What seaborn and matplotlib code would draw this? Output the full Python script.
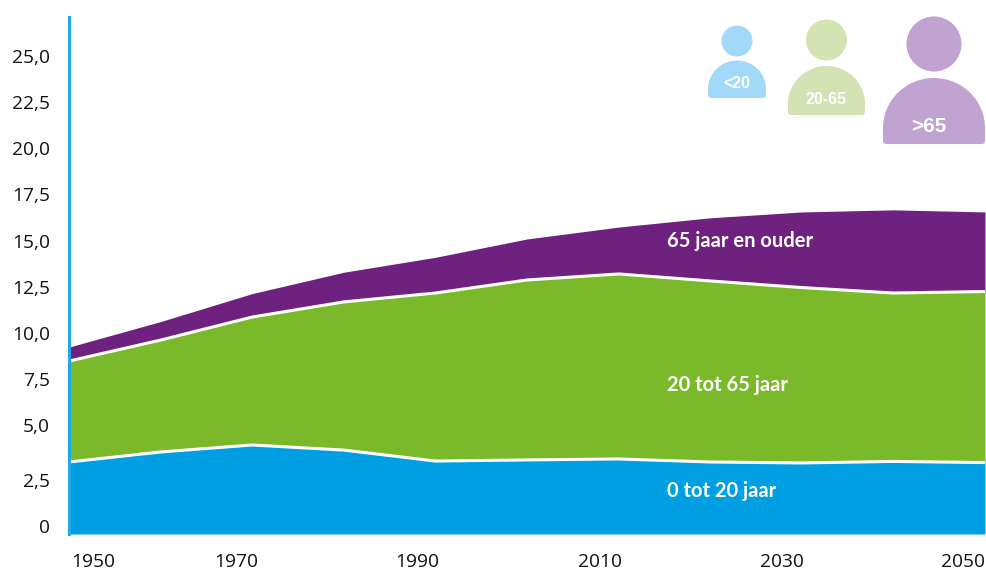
import matplotlib
matplotlib.use("Agg")
import matplotlib.pyplot as plt
from matplotlib.patches import Circle, PathPatch
from matplotlib.path import Path
from matplotlib.transforms import ScaledTranslation
import numpy as np
import pandas as pd
import seaborn as sns

years = [1950, 1960, 1970, 1980, 1990, 2000, 2010, 2020, 2030, 2040, 2050]
young = [3.81, 4.34, 4.71, 4.44, 3.86, 3.92, 3.97, 3.81, 3.76, 3.84, 3.78]
working = [5.34, 5.92, 6.77, 7.84, 8.89, 9.52, 9.79, 9.58, 9.28, 8.91, 9.05]
older = [0.74, 0.98, 1.24, 1.57, 1.89, 2.17, 2.48, 3.34, 4.00, 4.40, 4.21]
y_ticks = [0, 2.5, 5, 7.5, 10, 12.5, 15, 17.5, 20, 22.5, 25]
y_labels = ["0", "2,5", "5,0", "7,5", "10,0", "12,5", "15,0", "17,5", "20,0", "22,5", "25,0"]
x_ticks = [1950, 1970, 1990, 2010, 2030, 2050]
band_names = ["0 tot 20 jaar", "20 tot 65 jaar", "65 jaar en ouder"]
band_colors = ["#009fe3", "#7ab929", "#6f217f"]
icon_names = ["<20", "20-65", ">65"]
icon_colors = ["#a2d9f9", "#d3e3b3", "#c0a3d0"]

sns.set_theme(style="white")
plt.rcParams["font.family"] = ["Open Sans", "DejaVu Sans"]

W, H = 986, 571
fig = plt.figure(figsize=(W / 100, H / 100), dpi=100)
ax = fig.add_axes([69 / W, 1 - 534 / H, 916 / W, 517 / H])

ax.stackplot(years, young, working, older, colors=band_colors, linewidth=0)

df = pd.DataFrame({"year": years,
                   "young_top": np.array(young),
                   "working_top": np.array(young) + np.array(working)})
sns.lineplot(data=df, x="year", y="young_top", color="white", lw=2.2, ax=ax, solid_capstyle="butt")
sns.lineplot(data=df, x="year", y="working_top", color="white", lw=2.2, ax=ax, solid_capstyle="butt")

ax.set_xlim(1950, 2050)
ax.set_ylim(0, 517 / 18.9)
ax.set_xlabel("")
ax.set_ylabel("")
for s in ["top", "right", "bottom"]:
    ax.spines[s].set_visible(False)
ax.spines["left"].set_color("#1ea9e8")
ax.spines["left"].set_linewidth(2.2)

ax.set_yticks(y_ticks, y_labels)
ax.set_xticks(x_ticks, [str(y) for y in x_ticks])
ax.tick_params(axis="y", direction="in", length=2.5, width=0.5, color="white", pad=13.5,
               labelsize=13.8, labelcolor="#111111", left=True)
ax.tick_params(axis="x", length=0, pad=14, labelsize=13.8, labelcolor="#111111")

# the source's labels sit away from their ticks by uneven amounts (pixels)
y_shift = [8, 7, 15, 13.5, 12, 10.5, 9.5, 9, 8, 7, 6]
x_shift = [24, -16, -18, -19, -20, -22]
px = 72 / 100
for lab, d in zip(ax.get_yticklabels(), y_shift):
    lab.set_transform(lab.get_transform() + ScaledTranslation(0, d * px / 72, fig.dpi_scale_trans))
for lab, d in zip(ax.get_xticklabels(), x_shift):
    lab.set_transform(lab.get_transform() + ScaledTranslation(d * px / 72, 0, fig.dpi_scale_trans))

# overlay in pixel coordinates for annotations and person icons
ov = fig.add_axes([0, 0, 1, 1], facecolor="none")
ov.set_xlim(0, W)
ov.set_ylim(H, 0)
ov.axis("off")

for name, yy in zip(band_names, [491, 385, 241]):
    ov.text(667, yy, name, color="white", fontsize=14.5, fontweight="bold", va="center", ha="left",
            family=["Lato", "DejaVu Sans"])


def person(cx, cy, r, x0, x1, top, bottom, label, color, size, lx, ly):
    ov.add_patch(Circle((cx, cy), r, fc=color, ec="none"))
    mid = (x0 + x1) / 2
    hw = (x1 - x0) / 2
    k = 0.5523
    c = 3
    arch = min(top + hw * 0.98, bottom - c)
    verts = [(x0, bottom - c), (x0, arch), (x0, arch - (arch - top) * k),
             (mid - hw * k, top), (mid, top),
             (mid + hw * k, top), (x1, arch - (arch - top) * k), (x1, arch),
             (x1, bottom - c), (x1, bottom), (x1 - c, bottom), (x0 + c, bottom), (x0, bottom), (x0, bottom - c)]
    codes = [Path.MOVETO, Path.LINETO, Path.CURVE4, Path.CURVE4, Path.CURVE4,
             Path.CURVE4, Path.CURVE4, Path.CURVE4,
             Path.LINETO, Path.CURVE3, Path.CURVE3, Path.LINETO, Path.CURVE3, Path.CURVE3]
    ov.add_patch(PathPatch(Path(verts, codes), fc=color, ec="none"))
    ov.text(lx, ly, label, color="white", fontsize=size, fontweight="bold",
            family=["Liberation Sans", "DejaVu Sans"], ha="center", va="center")


person(737, 41, 15.5, 708, 766, 60.5, 98, icon_names[0], icon_colors[0], 11.5, 736.5, 84)
person(826.5, 40, 20.5, 788, 865, 66, 115, icon_names[1], icon_colors[1], 11.5, 826, 100)
person(934, 44, 27.5, 883, 985, 78, 144, icon_names[2], icon_colors[2], 15, 929, 126)

fig.savefig("out.png", dpi=100)
